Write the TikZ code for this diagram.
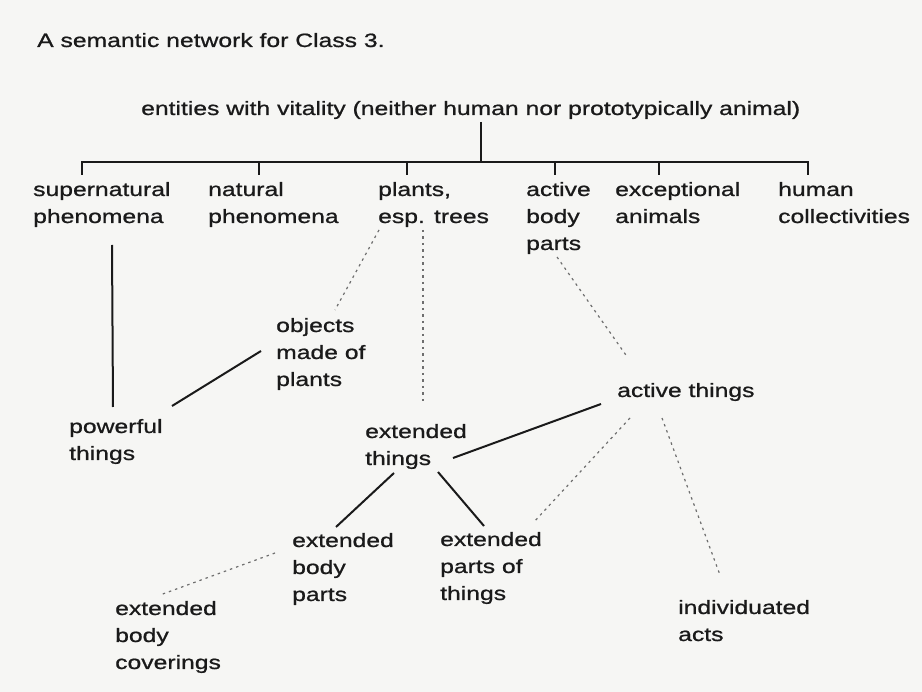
\documentclass[tikz,border=0pt]{standalone}
\usepackage{fontspec}
\setmainfont{Liberation Sans}[FakeStretch=1.28,FakeBold=0.9]
\newcommand\mlines[1]{\begin{tabular}[t]{@{}l@{}}#1\end{tabular}}
\definecolor{ink}{HTML}{1A1A1A}
\definecolor{paper}{HTML}{F6F6F4}
\definecolor{dashgray}{HTML}{6E6E6E}
\begin{document}
\begin{tikzpicture}[x=1pt,y=-1pt,
  lbl/.style={anchor=base west, inner sep=0pt, text=ink, font=\fontsize{19.3}{27}\selectfont},
  strongline/.style={draw=ink, line width=2pt},
  weakline/.style={draw=dashgray, line width=1.2pt, dash pattern=on 2.5pt off 4pt}
]
\fill[paper] (0,0) rectangle (922,692);
\useasboundingbox (0,0) rectangle (922,692);

% nodes
\node[lbl] (title) at (37,47) {A semantic network for Class 3.};
\node[lbl] (root) at (141,115) {entities with vitality (neither human nor prototypically animal)};
\node[lbl] (sup) at (33,196) {\mlines{supernatural\\phenomena}};
\node[lbl] (nat) at (208,196) {\mlines{natural\\phenomena}};
\node[lbl] (plants) at (378,196) {\mlines{plants,\\esp. trees}};
\node[lbl] (abp) at (526,196) {\mlines{active\\body\\parts}};
\node[lbl] (exc) at (615,196) {\mlines{exceptional\\animals}};
\node[lbl] (hum) at (778,196) {\mlines{human\\collectivities}};
\node[lbl] (objects) at (276,332) {\mlines{objects\\made of\\plants}};
\node[lbl] (powerful) at (69,433) {\mlines{powerful\\things}};
\node[lbl] (exthings) at (365,438) {\mlines{extended\\things}};
\node[lbl] (active) at (617,397) {active things};
\node[lbl] (extbody) at (292,547) {\mlines{extended\\body\\parts}};
\node[lbl] (extparts) at (440,546) {\mlines{extended\\parts of\\things}};
\node[lbl] (coverings) at (115,615) {\mlines{extended\\body\\coverings}};
\node[lbl] (indiv) at (678,614) {\mlines{individuated\\acts}};

% tree bar
\coordinate (bar) at (481,162);
\draw[strongline] ([shift={(340,7)}]root.base west) -- (bar);
\draw[strongline] (bar) -| ([shift={(49,-21)}]sup.base west);
\draw[strongline] (bar) -| ([shift={(51,-21)}]nat.base west);
\draw[strongline] (bar) -| ([shift={(29,-21)}]plants.base west);
\draw[strongline] (bar) -| ([shift={(29,-21)}]abp.base west);
\draw[strongline] (bar) -| ([shift={(44,-21)}]exc.base west);
\draw[strongline] (bar) -| ([shift={(30,-21)}]hum.base west);

% solid connectors
\draw[strongline] ([shift={(79,49)}]sup.base west) -- ([shift={(44,-26)}]powerful.base west);
\draw[strongline] ([shift={(-15,19)}]objects.base west) -- ([shift={(103,-27)}]powerful.base west);
\draw[strongline] ([shift={(-16,7)}]active.base west) -- ([shift={(88,20)}]exthings.base west);
\draw[strongline] ([shift={(29,35)}]exthings.base west) -- ([shift={(44,-20)}]extbody.base west);
\draw[strongline] ([shift={(73,34)}]exthings.base west) -- ([shift={(44,-20)}]extparts.base west);

% dashed connectors
\draw[weakline] ([shift={(1,34)}]plants.base west) -- ([shift={(59,-22)}]objects.base west);
\draw[weakline] ([shift={(45,34)}]plants.base west) -- ([shift={(58,-33)}]exthings.base west);
\draw[weakline] ([shift={(31,61)}]abp.base west) -- ([shift={(11,-39)}]active.base west);
\draw[weakline] ([shift={(13,21)}]active.base west) -- ([shift={(93,-23)}]extparts.base west);
\draw[weakline] ([shift={(45,21)}]active.base west) -- ([shift={(42,-39)}]indiv.base west);
\draw[weakline] ([shift={(-17,6)}]extbody.base west) -- ([shift={(45,-20)}]coverings.base west);
\end{tikzpicture}
\end{document}
